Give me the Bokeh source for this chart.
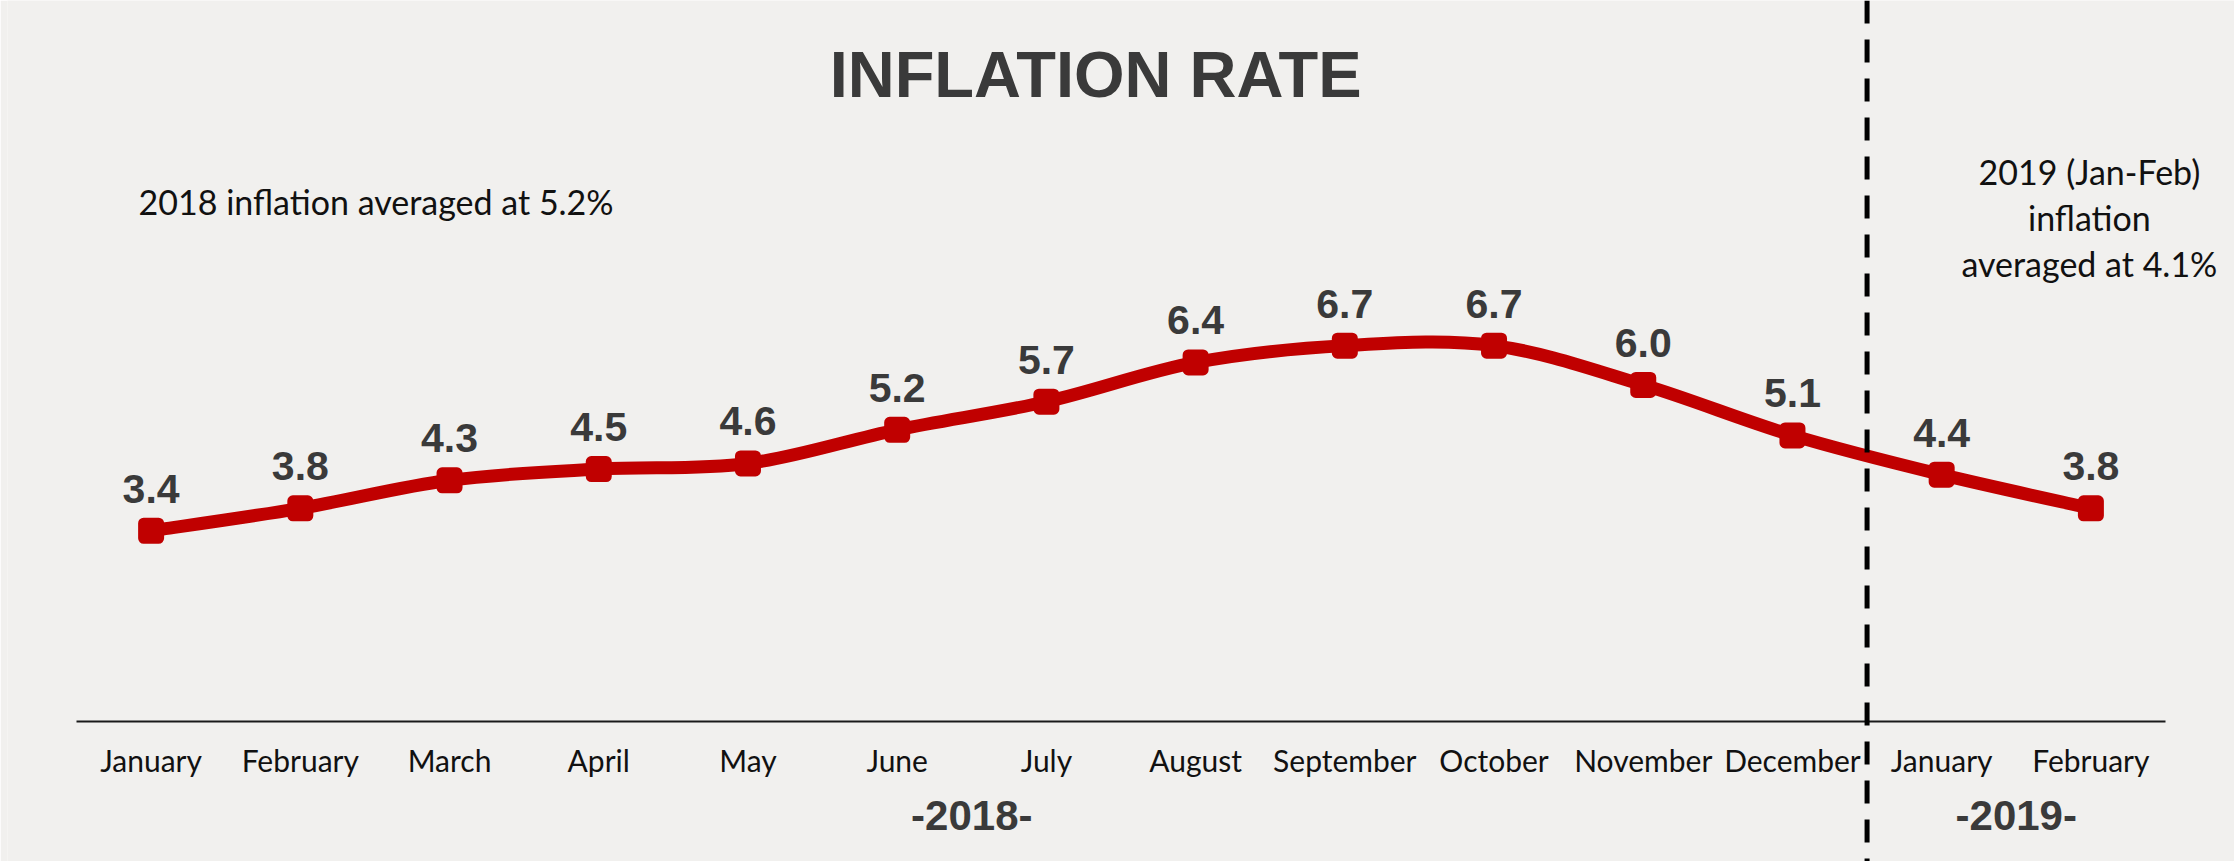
from bokeh.plotting import figure
from bokeh.models import FactorRange, Range1d, Span, Label, LabelSet, ColumnDataSource
from bokeh.core.properties import value
from bokeh.embed import file_html
from bokeh.resources import INLINE

# ---- data ----
years = ["-2018-"] * 12 + ["-2019-"] * 2
months = ["January", "February", "March", "April", "May", "June", "July",
          "August", "September", "October", "November", "December",
          "January", "February"]
rates = [3.4, 3.8, 4.3, 4.5, 4.6, 5.2, 5.7, 6.4, 6.7, 6.7, 6.0, 5.1, 4.4, 3.8]
title_text = "INFLATION RATE"
note_2018 = "2018 inflation averaged at 5.2%"
note_2019 = ["2019 (Jan-Feb)", "inflation", "averaged at 4.1%"]

factors = list(zip(years, months))
n = len(rates)
rate_labels = [f"{v:.1f}" for v in rates]

RED = "#c00000"
DARK = "#3a3a3a"
BG = "#f1f0ee"

W, H = 2234, 861
p = figure(width=W, height=H,
           x_range=FactorRange(*factors, factor_padding=0, group_padding=0,
                               range_padding=0.06607),
           y_range=Range1d(-2.4955, 12.852),
           output_backend="svg", toolbar_location=None, title=None,
           y_axis_location=None,
           min_border_left=7, min_border_right=0, min_border_top=0, min_border_bottom=0)
p.background_fill_color = BG
p.border_fill_color = BG
p.outline_line_color = None
p.grid.visible = False

ax = p.xaxis[0]
ax.fixed_location = 0
ax.bounds = (0, n)
ax.axis_line_color = "#1a1a1a"
ax.axis_line_width = 2
ax.major_tick_line_color = None
ax.minor_tick_line_color = None
ax.major_tick_out = 0
ax.major_tick_in = 0
ax.major_label_standoff = 20
ax.major_label_text_font = "Lato"
ax.major_label_text_font_size = "30px"
ax.major_label_text_color = "#111111"
ax.group_text_font = "Liberation Sans"
ax.group_text_font_size = "42px"
ax.group_text_font_style = "bold"
ax.group_text_color = DARK
ax.separator_line_color = None

# synthetic x positions of the factors
xs = [i + 0.5 for i in range(n)]

# smooth (Catmull-Rom style) curve through the data points
def pt(i):
    i = min(max(i, 0), n - 1)
    return xs[i], rates[i]

x0, y0, x1, y1, cx0, cy0, cx1, cy1 = [], [], [], [], [], [], [], []
for i in range(n - 1):
    pa, pb = pt(i - 1), pt(i)
    pc, pd = pt(i + 1), pt(i + 2)
    x0.append(pb[0]); y0.append(pb[1])
    x1.append(pc[0]); y1.append(pc[1])
    cx0.append(pb[0] + (pc[0] - pa[0]) / 6); cy0.append(pb[1] + (pc[1] - pa[1]) / 6)
    cx1.append(pc[0] - (pd[0] - pb[0]) / 6); cy1.append(pc[1] - (pd[1] - pb[1]) / 6)

p.bezier(x0=x0, y0=y0, x1=x1, y1=y1, cx0=cx0, cy0=cy0, cx1=cx1, cy1=cy1,
         line_color=RED, line_width=13, line_cap="round")

src = ColumnDataSource(dict(x=xs, y=rates, label=rate_labels))
p.scatter("x", "y", source=src, marker="square", size=15, fill_color=RED,
          line_color=RED, line_width=11, line_join="round")

labels = LabelSet(x="x", y="y", text="label", source=src, y_offset=42,
                  text_align="center", text_baseline="middle",
                  text_font=value("Liberation Sans"), text_font_style="bold",
                  text_font_size="41px", text_color=DARK)
p.add_layout(labels)

# divider between the years
p.add_layout(Span(location=years.count("-2018-"), dimension="height",
                  line_color="black", line_width=5, line_dash="23 16"))

# title
p.add_layout(Label(x=6.83, y=11.53, text=title_text, text_align="center",
                   text_baseline="middle", text_font="Liberation Sans",
                   text_font_style="bold", text_font_size="65px", text_color=DARK))

# notes
p.add_layout(Label(x=0.416, y=9.27, text=note_2018, text_align="left",
                   text_baseline="middle", text_font="Lato",
                   text_font_size="34px", text_color="#111111"))
for line, yy in zip(note_2019, [9.80, 8.98, 8.16]):
    p.add_layout(Label(x=13.49, y=yy, text=line, text_align="center",
                       text_baseline="middle", text_font="Lato",
                       text_font_size="34px", text_color="#111111"))

open("out.html", "w").write(file_html(p, INLINE))
